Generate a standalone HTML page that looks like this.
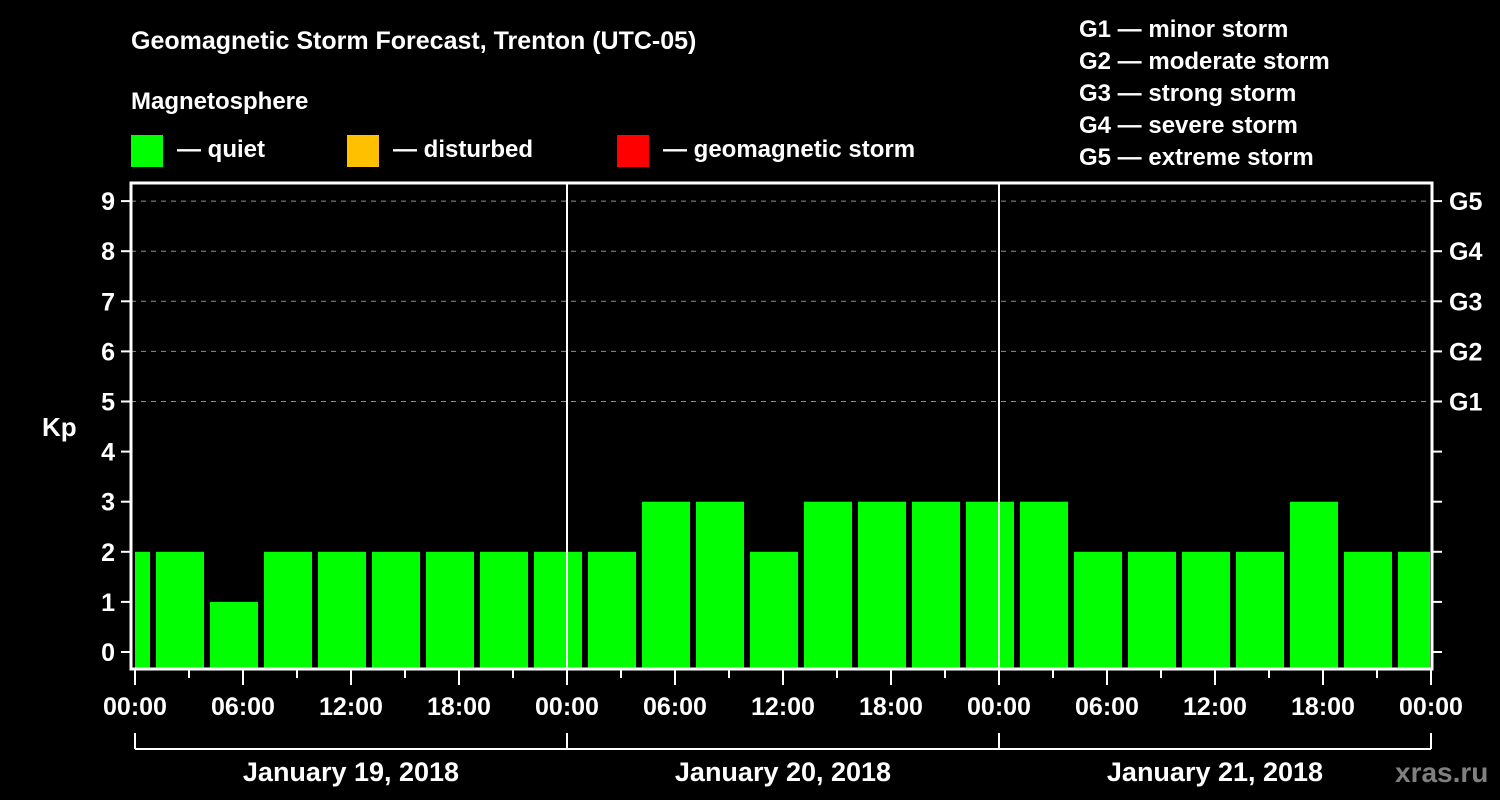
<!DOCTYPE html>
<html><head><meta charset="utf-8"><style>
html,body{margin:0;padding:0;background:#000;width:1500px;height:800px;overflow:hidden}
svg text{font-family:"Liberation Sans",sans-serif;font-weight:bold;fill:#fff}
</style></head><body>
<svg id="chart" width="1500" height="800" xmlns="http://www.w3.org/2000/svg">
<text x="131" y="49" font-size="25">Geomagnetic Storm Forecast, Trenton (UTC-05)</text>
<text x="131" y="109" font-size="24">Magnetosphere</text>
<g><rect x="131" y="135" width="32" height="32" fill="#00ff00"/><text x="177" y="157" font-size="24">— quiet</text></g>
<g><rect x="347" y="135" width="32" height="32" fill="#ffc000"/><text x="393" y="157" font-size="24">— disturbed</text></g>
<g><rect x="617" y="135" width="32" height="32" fill="#ff0000"/><text x="663" y="157" font-size="24">— geomagnetic storm</text></g>
<g font-size="24">
<text x="1079" y="37">G1 — minor storm</text><text x="1079" y="69">G2 — moderate storm</text><text x="1079" y="101">G3 — strong storm</text><text x="1079" y="133">G4 — severe storm</text><text x="1079" y="165">G5 — extreme storm</text></g>
<text x="42" y="436" font-size="26">Kp</text>
<g id="grid"></g><g id="bars"></g><g id="axes"></g>
<text x="1395" y="782" font-size="28" style="fill:#808080">xras.ru</text>
</svg>
<script>
const kpValues=[2,2,1,2,2,2,2,2,2,2,3,3,2,3,3,3,3,3,2,2,2,2,3,2,2];
const dayLabels=["January 19, 2018","January 20, 2018","January 21, 2018"];
const timeLabels=["00:00","06:00","12:00","18:00"];
const gLabels=["G1","G2","G3","G4","G5"];
const NS="http://www.w3.org/2000/svg";
const L=131,R=1432,T=183,B=669,X0=135,PXH=18;
const x=h=>X0+h*PXH;
const y=v=>652-v*50.1;
function mk(t,a,p){const e=document.createElementNS(NS,t);for(const k in a)e.setAttribute(k,a[k]);p.appendChild(e);return e;}
const grid=document.getElementById('grid'),bars=document.getElementById('bars'),axes=document.getElementById('axes');
for(let v=5;v<=9;v++){const l=mk('line',{x1:L,x2:R,y1:y(v),y2:y(v),stroke:'#909090','stroke-dasharray':'5,5','stroke-width':1},grid);

}
const clip=mk('clipPath',{id:'pc'},document.getElementById('chart'));mk('rect',{x:X0,y:T,width:1430-X0,height:B-T},clip);
bars.setAttribute('clip-path','url(#pc)');
kpValues.forEach((v,i)=>{const c=x(-0.5+3*i);const col=v>=5?'#ff0000':(v>=4?'#ffc000':'#00ff00');
const r=mk('rect',{x:c-24,y:y(v),width:48,height:B-1-y(v),fill:col},bars);

});
[1,2].forEach(d=>{const l=mk('line',{x1:x(24*d),x2:x(24*d),y1:T,y2:B,stroke:'#fff','stroke-width':2},axes);

});
const fr=mk('rect',{x:L,y:T,width:R-L,height:B-T,fill:'none',stroke:'#fff','stroke-width':3},axes);


for(let v=0;v<=9;v++){mk('line',{x1:121,x2:L,y1:y(v),y2:y(v),stroke:'#fff','stroke-width':2},axes);
mk('line',{x1:R,x2:1442,y1:y(v),y2:y(v),stroke:'#fff','stroke-width':2},axes);
const t=mk('text',{x:115,y:y(v)+9,'font-size':25,'text-anchor':'end'},axes);t.textContent=v;


if(v>=5){const g=mk('text',{x:1449,y:y(v)+9,'font-size':25},axes);g.textContent=gLabels[v-5];

}}
for(let h=0;h<=72;h+=3){const long=h%6===0;mk('line',{x1:x(h),x2:x(h),y1:B,y2:long?685:678,stroke:'#fff','stroke-width':2},axes);
if(long){const t=mk('text',{x:x(h),y:715,'font-size':25,'text-anchor':'middle'},axes);t.textContent=timeLabels[(h/6)%4];

}}
mk('line',{x1:x(0),x2:x(72),y1:749,y2:749,stroke:'#fff','stroke-width':2},axes);
for(let d=0;d<=3;d++)mk('line',{x1:x(24*d),x2:x(24*d),y1:733,y2:749,stroke:'#fff','stroke-width':2},axes);
dayLabels.forEach((s,d)=>{const t=mk('text',{x:x(24*d+12),y:781,'font-size':27,'text-anchor':'middle'},axes);t.textContent=s;

});
</script>
</body></html>
